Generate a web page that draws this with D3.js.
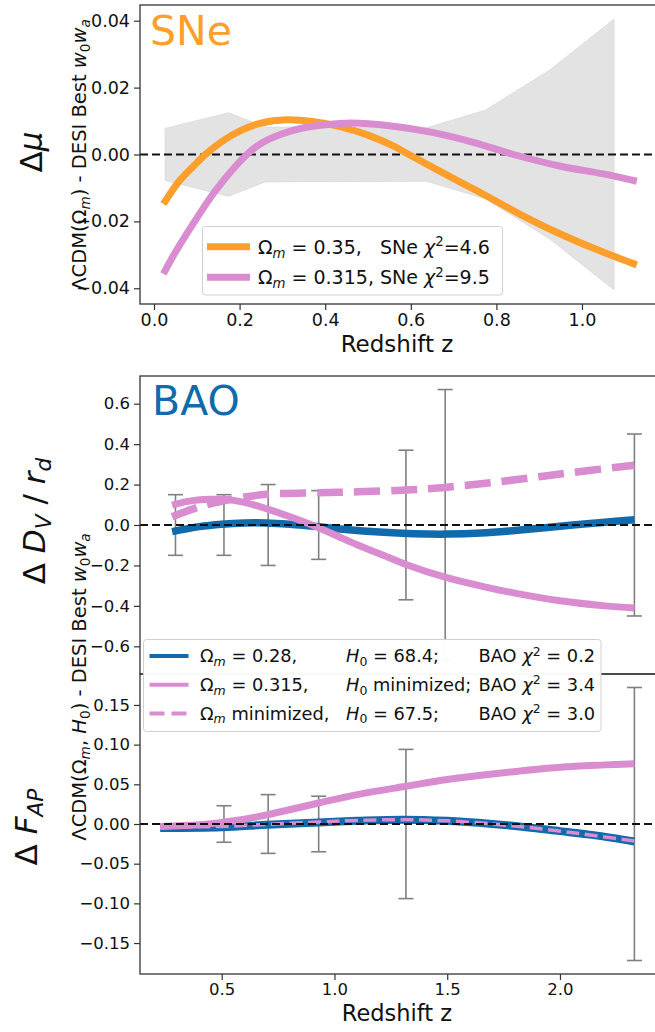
<!DOCTYPE html>
<html><head><meta charset="utf-8">
<script src="https://cdn.jsdelivr.net/npm/d3@7"></script>
<style>
body{margin:0;background:#fff}
svg{display:block}
text{font-family:"DejaVu Sans",sans-serif;fill:#111}
</style>
</head><body>
<svg id="c" width="655" height="1032"></svg>
<script>
// ---------------- DATA ----------------
// SNe panel
const zSNe1 = [0.022,0.06,0.10,0.12,0.16,0.2,0.25,0.31,0.37,0.43,0.5,0.56,0.6,0.7,0.777,0.85,0.933,1.03,1.128];
const snOm035 = [-0.0148,-0.0078,-0.0025,0.0,0.0040,0.0070,0.0094,0.0104,0.0099,0.0085,0.0058,0.0025,-0.0003,-0.0072,-0.0124,-0.0175,-0.0228,-0.0282,-0.0330];
const zSNe2 = [0.022,0.05,0.1,0.146,0.217,0.25,0.3,0.35,0.40,0.46,0.55,0.65,0.75,0.84,0.95,1.05,1.128];
const snOm0315 = [-0.0357,-0.0292,-0.0190,-0.0104,0.0,0.0033,0.0062,0.0080,0.0089,0.0094,0.0086,0.0066,0.0035,0.0,-0.0035,-0.0058,-0.0080];
const bandZ = [0.026,0.174,0.26,0.637,0.775,0.925,1.075];
const bandUpper = [0.0078,0.0125,0.0082,0.0080,0.0133,0.0253,0.0405];
const bandLower = [-0.0078,-0.0125,-0.0082,-0.0080,-0.0133,-0.0253,-0.0405];
const snTicksX = [0.0,0.2,0.4,0.6,0.8,1.0];
const snTicksY = [-0.04,-0.02,0.0,0.02,0.04];
const snLegend = ["0.35,   SNe ", "0.315, SNe "];
const snChi2 = ["4.6","9.5"];

// BAO D_V panel
const zDVblue = [0.28,0.4,0.5,0.6,0.7,0.8,0.93,1.05,1.2,1.35,1.5,1.65,1.8,2.0,2.2,2.33];
const dvOm028 = [-0.033,-0.008,0.004,0.010,0.010,0.004,-0.008,-0.022,-0.035,-0.043,-0.045,-0.040,-0.027,-0.006,0.014,0.026];
const zDVpink = [0.28,0.35,0.45,0.51,0.6,0.7,0.8,0.9,1.0,1.1,1.2,1.317,1.49,1.65,1.8,2.0,2.2,2.33];
const dvOm0315 = [0.098,0.117,0.127,0.127,0.112,0.080,0.042,0.0,-0.048,-0.098,-0.142,-0.195,-0.258,-0.302,-0.337,-0.375,-0.400,-0.410];
const zDVdash = [0.28,0.4,0.5,0.6,0.7,0.93,1.1,1.317,1.49,1.7,2.0,2.33];
const dvOmMin = [0.041,0.090,0.117,0.138,0.152,0.160,0.164,0.173,0.186,0.210,0.252,0.296];
const zDVerr = [0.295,0.51,0.706,0.93,1.317,1.491,2.33];
const dvErr = [0.15,0.15,0.20,0.17,0.37,0.67,0.45];
const dvTicksY = [-0.6,-0.4,-0.2,0.0,0.2,0.4,0.6];

// BAO F_AP panel
const zFAP = [0.227,0.5,0.7,0.93,1.1,1.3,1.5,1.7,1.85,2.0,2.15,2.33];
const fapOm028 = [-0.005,-0.004,-0.001,0.002,0.004,0.0055,0.004,0.0,-0.004,-0.009,-0.014,-0.022];
const fapOmMin = [-0.004,-0.003,-0.0005,0.0025,0.0045,0.0055,0.004,0.0,-0.004,-0.009,-0.0145,-0.0215];
const zFAPpink = [0.227,0.4,0.5,0.6,0.7,0.8,0.93,1.1,1.317,1.5,1.7,2.0,2.2,2.33];
const fapOm0315 = [-0.003,-0.001,0.002,0.006,0.0115,0.018,0.0265,0.037,0.0475,0.056,0.063,0.0715,0.0745,0.076];
const zFAPerr = [0.51,0.706,0.93,1.317,2.33];
const fapErr = [0.023,0.037,0.035,0.094,0.172];
const fapTicksY = [-0.15,-0.10,-0.05,0.0,0.05,0.10,0.15];
const baoTicksX = [0.5,1.0,1.5,2.0];
const baoCol1 = [" = 0.28,", " = 0.315,", " minimized,"];
const baoCol2 = [" = 68.4;", " minimized;", " = 67.5;"];
const baoChi2 = ["0.2","3.4","3.0"];

// ---------------- STYLE ----------------
const ORANGE = "#fd9f2a", PINK = "#d98cd0", BLUE = "#106aac", GREY = "#808080";
const svg = d3.select("#c");

// ---------------- helpers ----------------
function rich(parent, x, y, parts, size, anchor, rotate) {
  const t = parent.append("text").attr("x", x).attr("y", y)
    .style("font-size", size + "px").attr("text-anchor", anchor || "start")
    .style("white-space", "pre");
  if (rotate) t.attr("transform", `rotate(${rotate},${x},${y})`);
  let shift = 0;
  parts.forEach(p => {
    const s = p[0], k = p[1] || "";
    let target = 0, fs = size;
    if (k.includes("sub")) { target = 0.2 * size; fs = 0.7 * size; }
    if (k.includes("sup")) { target = -0.38 * size; fs = 0.7 * size; }
    const ts = t.append("tspan").text(s).attr("dy", (target - shift)).style("font-size", fs + "px");
    if (k.includes("i")) ts.style("font-style", "italic");
    shift = target;
  });
  return t;
}
function styleAxis(g, fs) {
  g.select(".domain").remove();
  g.selectAll(".tick line").attr("stroke", "#333").attr("stroke-width", 1.2);
  g.selectAll(".tick text").style("font-size", fs + "px").attr("fill", "#111")
    .style("font-family", "'DejaVu Sans',sans-serif");
}
const zip = (a, b) => a.map((v, i) => [v, b[i]]);

// ---------------- SNe panel ----------------
const L = 140, R = 661;
const xS = d3.scaleLinear().domain([-0.0327, 1.1846]).range([L, R]);
const yS = d3.scaleLinear().domain([-0.0447, 0.0447]).range([304, 5]);
svg.append("clipPath").attr("id", "cS").append("rect").attr("x", L).attr("y", 5).attr("width", R - L).attr("height", 299);
const gS = svg.append("g").attr("clip-path", "url(#cS)");

const bandPts = zip(bandZ, bandUpper).concat(zip(bandZ, bandLower).reverse());
gS.append("path").attr("d", d3.line().x(d => xS(d[0])).y(d => yS(d[1]))(bandPts) + "Z")
  .attr("fill", "#e3e3e3").attr("stroke", "#dadada").attr("stroke-width", 0.8);
gS.append("line").attr("x1", L).attr("x2", R).attr("y1", yS(0)).attr("y2", yS(0))
  .attr("stroke", "#111").attr("stroke-width", 2).attr("stroke-dasharray", "8,4");
const lineS = d3.line().x(d => xS(d[0])).y(d => yS(d[1])).curve(d3.curveCatmullRom.alpha(0.5));
gS.append("path").attr("d", lineS(zip(zSNe1, snOm035))).attr("fill", "none").attr("stroke", ORANGE).attr("stroke-width", 7);
gS.append("path").attr("d", lineS(zip(zSNe2, snOm0315))).attr("fill", "none").attr("stroke", PINK).attr("stroke-width", 7);

svg.append("rect").attr("x", L).attr("y", 5).attr("width", R - L).attr("height", 299)
  .attr("fill", "none").attr("stroke", "#333").attr("stroke-width", 1.3);
styleAxis(svg.append("g").attr("transform", `translate(${L},0)`)
  .call(d3.axisLeft(yS).tickValues(snTicksY).tickFormat(d3.format(".2f")).tickSize(6).tickPadding(4)), 17.5);
styleAxis(svg.append("g").attr("transform", `translate(0,304)`)
  .call(d3.axisBottom(xS).tickValues(snTicksX).tickFormat(d3.format(".1f")).tickSize(6).tickPadding(4)), 17.5);

svg.append("text").attr("x", 150).attr("y", 45).text("SNe").style("font-size", "41px").style("fill", ORANGE);

// SNe legend
svg.append("rect").attr("x", 202.5).attr("y", 226.5).attr("width", 300).attr("height", 68.5).attr("rx", 3)
  .attr("fill", "#fff").attr("fill-opacity", 0.9).attr("stroke", "#d0d0d0");
[ORANGE, PINK].forEach((c, i) => {
  const cy = 246.7 + i * 30.6;
  svg.append("line").attr("x1", 207).attr("x2", 250).attr("y1", cy).attr("y2", cy).attr("stroke", c).attr("stroke-width", 7);
  rich(svg, 258, cy + 7, [["Ω"], ["m", "sub i"], [" = " + snLegend[i]], ["χ", "i"], ["2", "sup"], ["=" + snChi2[i]]], 19);
});

rich(svg, 397, 352, [["Redshift z"]], 23, "middle");
rich(svg, 42, 152, [["Δ"], ["μ", "i"]], 31, "middle", -90);
rich(svg, 86, 155, [["ΛCDM(Ω"], ["m", "sub i"], [") - DESI Best "], ["w", "i"], ["0", "sub"], ["w", "i"], ["a", "sub i"]], 19.5, "middle", -90);

// ---------------- BAO panels ----------------
const xB = d3.scaleLinear().domain([0.1377, 2.448]).range([L, R]);
const yD = d3.scaleLinear().domain([-0.737, 0.737]).range([674, 376]);
const yF = d3.scaleLinear().domain([-0.189, 0.189]).range([974, 674]);

function panel(id, yScale, top, bottom, errZ, errV, curves, fs, ticks, fmt) {
  svg.append("clipPath").attr("id", id).append("rect").attr("x", L).attr("y", top).attr("width", R - L).attr("height", bottom - top);
  const g = svg.append("g").attr("clip-path", `url(#${id})`);
  errZ.forEach((z, i) => {
    const x = xB(z), y1 = yScale(errV[i]), y2 = yScale(-errV[i]);
    g.append("line").attr("x1", x).attr("x2", x).attr("y1", y1).attr("y2", y2).attr("stroke", GREY).attr("stroke-width", 1.6);
    [y1, y2].forEach(y => g.append("line").attr("x1", x - 7.5).attr("x2", x + 7.5).attr("y1", y).attr("y2", y).attr("stroke", GREY).attr("stroke-width", 1.6));
  });
  const ln = d3.line().x(d => xB(d[0])).y(d => yScale(d[1])).curve(d3.curveCatmullRom.alpha(0.5));
  curves.forEach(c => {
    g.append("path").attr("d", ln(zip(c.z, c.v))).attr("fill", "none").attr("stroke", c.color)
      .attr("stroke-width", c.w).attr("stroke-dasharray", c.dash || null);
  });
  g.append("line").attr("x1", L).attr("x2", R).attr("y1", yScale(0)).attr("y2", yScale(0))
    .attr("stroke", "#111").attr("stroke-width", 2).attr("stroke-dasharray", "8,4");
  svg.append("rect").attr("x", L).attr("y", top).attr("width", R - L).attr("height", bottom - top)
    .attr("fill", "none").attr("stroke", "#333").attr("stroke-width", 1.3);
  styleAxis(svg.append("g").attr("transform", `translate(${L},0)`)
    .call(d3.axisLeft(yScale).tickValues(ticks).tickFormat(d3.format(fmt)).tickSize(6).tickPadding(4)), fs);
}

panel("cD", yD, 376, 674, zDVerr, dvErr, [
  { z: zDVblue, v: dvOm028, color: BLUE, w: 7.5 },
  { z: zDVpink, v: dvOm0315, color: PINK, w: 7 },
  { z: zDVdash, v: dvOmMin, color: PINK, w: 7.5, dash: "26,11" }
], 16.5, dvTicksY, ".1f");

panel("cF", yF, 674, 974, zFAPerr, fapErr, [
  { z: zFAP, v: fapOm028, color: BLUE, w: 8 },
  { z: zFAPpink, v: fapOm0315, color: PINK, w: 7 },
  { z: zFAP, v: fapOmMin, color: PINK, w: 3.5, dash: "13,5.5" }
], 16.5, fapTicksY, ".2f");

styleAxis(svg.append("g").attr("transform", `translate(0,974)`)
  .call(d3.axisBottom(xB).tickValues(baoTicksX).tickFormat(d3.format(".1f")).tickSize(6).tickPadding(3)), 16.5);

svg.append("text").attr("x", 152).attr("y", 415).text("BAO").style("font-size", "41px").style("fill", BLUE);

// BAO legend
svg.append("rect").attr("x", 143.5).attr("y", 639.5).attr("width", 457.5).attr("height", 92).attr("rx", 3)
  .attr("fill", "#fff").attr("fill-opacity", 0.97).attr("stroke", "#d0d0d0");
const legStyles = [{ c: BLUE }, { c: PINK }, { c: PINK, dash: "15,7" }];
legStyles.forEach((s, i) => {
  const cy = 656 + i * 28.7;
  svg.append("line").attr("x1", 149.5).attr("x2", 188.5).attr("y1", cy).attr("y2", cy)
    .attr("stroke", s.c).attr("stroke-width", 4).attr("stroke-dasharray", s.dash || null);
  rich(svg, 200, cy + 6.4, [["Ω"], ["m", "sub i"], [baoCol1[i]]], 17.8);
  rich(svg, 346, cy + 6.4, [["H", "i"], ["0", "sub"], [baoCol2[i]]], 17.8);
  rich(svg, 478.5, cy + 6.4, [["BAO "], ["χ", "i"], ["2", "sup"], [" = " + baoChi2[i]]], 17.8);
});

rich(svg, 397, 1021, [["Redshift z"]], 22.5, "middle");
rich(svg, 45, 521, [["Δ "], ["D", "i"], ["V", "sub i"], [" / "], ["r", "i"], ["d", "sub i"]], 31, "middle", -90);
rich(svg, 37, 827, [["Δ "], ["F", "i"], ["AP", "sub i"]], 31, "middle", -90);
rich(svg, 86, 687, [["ΛCDM(Ω"], ["m", "sub i"], [", "], ["H", "i"], ["0", "sub"], [") - DESI Best "], ["w", "i"], ["0", "sub"], ["w", "i"], ["a", "sub i"]], 19.5, "middle", -90);
</script>
</body></html>
